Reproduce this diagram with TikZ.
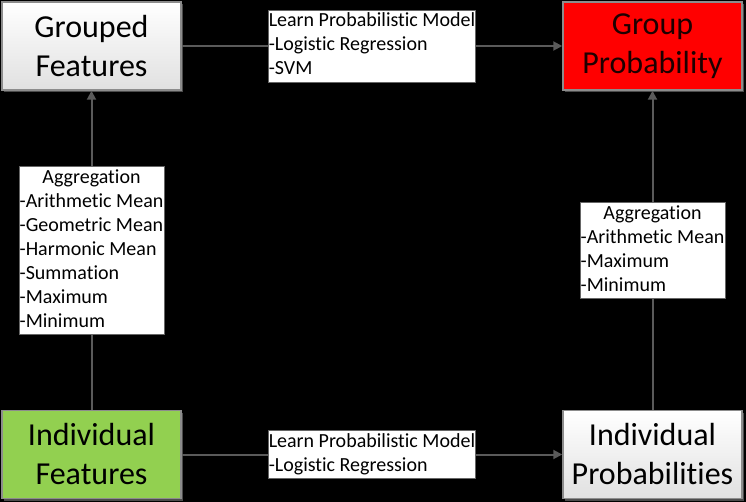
\documentclass[tikz,border=0pt]{standalone}
\usepackage{fontspec}
\setmainfont{Carlito}[Ligatures={NoCommon,NoContextual}]
\usetikzlibrary{arrows.meta,shadows}
\definecolor{boxgreen}{HTML}{92D050}
\definecolor{boxred}{HTML}{FF0000}
\definecolor{redtext}{HTML}{1E0000}
\definecolor{linegray}{HTML}{5A5A5A}
\definecolor{bordergray}{HTML}{8C8C8C}
\tikzset{
  mainbox/.style={draw=bordergray, line width=1.5pt, minimum width=179pt, minimum height=88pt,
    inner sep=0pt, align=center, font=\fontsize{32}{39}\selectfont,
    drop shadow={shadow xshift=2pt, shadow yshift=-2pt, fill=black!70, opacity=1}},
  whitebox/.style={mainbox, top color=white, bottom color=black!12},
  labelbox/.style={fill=white, draw=black!60, line width=0.6pt, inner xsep=0.5pt, inner ysep=0pt,
    font=\fontsize{20}{24}\selectfont},
  conn/.style={draw=linegray, line width=2pt, -{Triangle[length=9pt,width=9pt]}}
}
\begin{document}
\begin{tikzpicture}[x=1pt,y=-1pt]
\fill[black] (0,0) rectangle (746,502);
\useasboundingbox (0,0) rectangle (746,502);
\node[whitebox] (gf) at (91.5,46) {Grouped\\Features};
\node[mainbox, fill=boxred, text=redtext] (gp) at (652.5,46) {Group\\Probability};
\node[mainbox, fill=boxgreen] (if) at (91.5,454.5) {Individual\\Features};
\node[whitebox] (ip) at (652.5,454.5) {Individual\\Probabilities};
\draw[conn] (gf.east) -- node[labelbox] (l1) {\begin{tabular}{@{}l@{}}Learn Probabilistic Model\\-Logistic Regression\\-SVM\end{tabular}} (gp.west);
\draw[conn] (if.east) -- node[labelbox] (l2) {\begin{tabular}{@{}l@{}}Learn Probabilistic Model\\-Logistic Regression\end{tabular}} (ip.west);
\draw[conn] (if.north) -- node[labelbox] (l3) {\begin{tabular}{@{}l@{}}\multicolumn{1}{@{}c@{}}{Aggregation}\\-Arithmetic Mean\\-Geometric Mean\\-Harmonic Mean\\-Summation\\-Maximum\\-Minimum\end{tabular}} (gf.south);
\draw[conn] (ip.north) -- node[labelbox] (l4) {\begin{tabular}{@{}l@{}}\multicolumn{1}{@{}c@{}}{Aggregation}\\-Arithmetic Mean\\-Maximum\\-Minimum\end{tabular}} (gp.south);
\end{tikzpicture}
\end{document}
